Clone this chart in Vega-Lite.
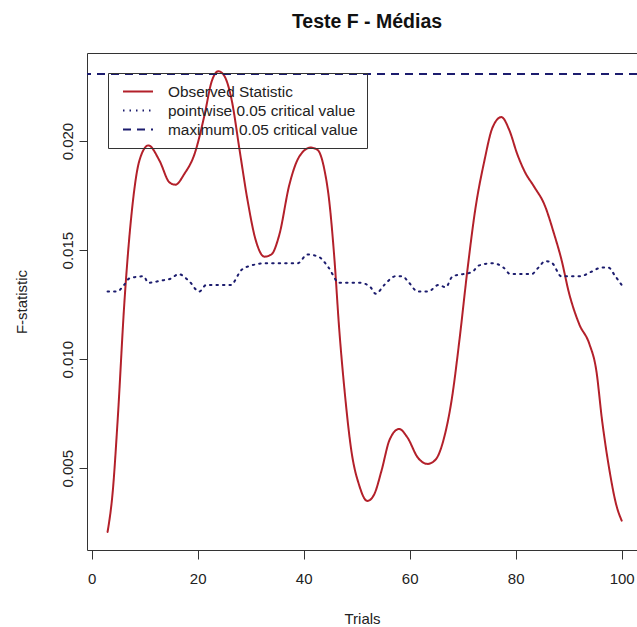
{
  "$schema": "https://vega.github.io/schema/vega-lite/v6.json",
  "width": 550,
  "height": 497,
  "autosize": "none",
  "padding": {"left": 87, "top": 53, "right": 0, "bottom": 77},
  "background": "white",
  "title": {"text": "Teste F - Médias", "font": "Liberation Sans", "fontSize": 19.5, "fontWeight": "bold", "color": "#111", "anchor": "middle", "offset": 21, "dx": 5},
  "config": {
    "view": {"stroke": "#333", "strokeWidth": 1},
    "font": "Liberation Sans"
  },
  "data": {"values": [
    {"series": "Observed Statistic", "x": 3, "y": 0.00208},
    {"series": "Observed Statistic", "x": 4, "y": 0.0040},
    {"series": "Observed Statistic", "x": 4.9, "y": 0.0072},
    {"series": "Observed Statistic", "x": 6.2, "y": 0.0127},
    {"series": "Observed Statistic", "x": 7.5, "y": 0.0166},
    {"series": "Observed Statistic", "x": 9, "y": 0.0191},
    {"series": "Observed Statistic", "x": 10.7, "y": 0.0198},
    {"series": "Observed Statistic", "x": 12.8, "y": 0.0191},
    {"series": "Observed Statistic", "x": 14.7, "y": 0.0181},
    {"series": "Observed Statistic", "x": 15.8, "y": 0.0180},
    {"series": "Observed Statistic", "x": 17.5, "y": 0.0185},
    {"series": "Observed Statistic", "x": 19.4, "y": 0.0194},
    {"series": "Observed Statistic", "x": 21.3, "y": 0.0212},
    {"series": "Observed Statistic", "x": 22.6, "y": 0.0227},
    {"series": "Observed Statistic", "x": 23.9, "y": 0.0232},
    {"series": "Observed Statistic", "x": 25, "y": 0.0230},
    {"series": "Observed Statistic", "x": 26.4, "y": 0.0219},
    {"series": "Observed Statistic", "x": 27.9, "y": 0.0196},
    {"series": "Observed Statistic", "x": 29.4, "y": 0.0173},
    {"series": "Observed Statistic", "x": 30.9, "y": 0.0155},
    {"series": "Observed Statistic", "x": 32.6, "y": 0.0147},
    {"series": "Observed Statistic", "x": 33.9, "y": 0.0148},
    {"series": "Observed Statistic", "x": 35.4, "y": 0.0157},
    {"series": "Observed Statistic", "x": 37.3, "y": 0.0180},
    {"series": "Observed Statistic", "x": 39.2, "y": 0.0193},
    {"series": "Observed Statistic", "x": 41.3, "y": 0.0197},
    {"series": "Observed Statistic", "x": 42.6, "y": 0.0196},
    {"series": "Observed Statistic", "x": 43.9, "y": 0.0187},
    {"series": "Observed Statistic", "x": 44.8, "y": 0.0173},
    {"series": "Observed Statistic", "x": 45.8, "y": 0.0146},
    {"series": "Observed Statistic", "x": 46.7, "y": 0.0114},
    {"series": "Observed Statistic", "x": 47.7, "y": 0.0086},
    {"series": "Observed Statistic", "x": 49, "y": 0.0058},
    {"series": "Observed Statistic", "x": 50.5, "y": 0.0042},
    {"series": "Observed Statistic", "x": 52, "y": 0.0035},
    {"series": "Observed Statistic", "x": 53.3, "y": 0.0038},
    {"series": "Observed Statistic", "x": 54.7, "y": 0.0049},
    {"series": "Observed Statistic", "x": 56.2, "y": 0.0063},
    {"series": "Observed Statistic", "x": 58, "y": 0.0068},
    {"series": "Observed Statistic", "x": 59.6, "y": 0.0064},
    {"series": "Observed Statistic", "x": 61.5, "y": 0.0055},
    {"series": "Observed Statistic", "x": 63.4, "y": 0.0052},
    {"series": "Observed Statistic", "x": 64.9, "y": 0.0054},
    {"series": "Observed Statistic", "x": 66.6, "y": 0.0065},
    {"series": "Observed Statistic", "x": 67.9, "y": 0.0081},
    {"series": "Observed Statistic", "x": 69.4, "y": 0.0109},
    {"series": "Observed Statistic", "x": 70.9, "y": 0.0141},
    {"series": "Observed Statistic", "x": 72.4, "y": 0.0169},
    {"series": "Observed Statistic", "x": 74.1, "y": 0.0191},
    {"series": "Observed Statistic", "x": 75.6, "y": 0.0206},
    {"series": "Observed Statistic", "x": 77.3, "y": 0.0211},
    {"series": "Observed Statistic", "x": 78.8, "y": 0.0205},
    {"series": "Observed Statistic", "x": 80.3, "y": 0.0194},
    {"series": "Observed Statistic", "x": 81.7, "y": 0.0186},
    {"series": "Observed Statistic", "x": 83.5, "y": 0.0179},
    {"series": "Observed Statistic", "x": 85.4, "y": 0.0171},
    {"series": "Observed Statistic", "x": 87.3, "y": 0.0157},
    {"series": "Observed Statistic", "x": 88.6, "y": 0.0146},
    {"series": "Observed Statistic", "x": 90.1, "y": 0.0130},
    {"series": "Observed Statistic", "x": 92, "y": 0.0116},
    {"series": "Observed Statistic", "x": 93.9, "y": 0.0107},
    {"series": "Observed Statistic", "x": 95.2, "y": 0.0095},
    {"series": "Observed Statistic", "x": 96.3, "y": 0.0072},
    {"series": "Observed Statistic", "x": 97.7, "y": 0.0049},
    {"series": "Observed Statistic", "x": 99, "y": 0.0033},
    {"series": "Observed Statistic", "x": 100, "y": 0.0026},
    {"series": "pointwise 0.05 critical value", "x": 3, "y": 0.0131},
    {"series": "pointwise 0.05 critical value", "x": 4.8, "y": 0.0131},
    {"series": "pointwise 0.05 critical value", "x": 6.1, "y": 0.0134},
    {"series": "pointwise 0.05 critical value", "x": 7.1, "y": 0.0137},
    {"series": "pointwise 0.05 critical value", "x": 9.8, "y": 0.0138},
    {"series": "pointwise 0.05 critical value", "x": 10.7, "y": 0.0135},
    {"series": "pointwise 0.05 critical value", "x": 13, "y": 0.0136},
    {"series": "pointwise 0.05 critical value", "x": 15, "y": 0.0137},
    {"series": "pointwise 0.05 critical value", "x": 16.4, "y": 0.0139},
    {"series": "pointwise 0.05 critical value", "x": 18.3, "y": 0.0136},
    {"series": "pointwise 0.05 critical value", "x": 20.3, "y": 0.0131},
    {"series": "pointwise 0.05 critical value", "x": 21.6, "y": 0.0134},
    {"series": "pointwise 0.05 critical value", "x": 24.3, "y": 0.0134},
    {"series": "pointwise 0.05 critical value", "x": 26.2, "y": 0.0134},
    {"series": "pointwise 0.05 critical value", "x": 28.3, "y": 0.0141},
    {"series": "pointwise 0.05 critical value", "x": 30.2, "y": 0.0143},
    {"series": "pointwise 0.05 critical value", "x": 32.8, "y": 0.0144},
    {"series": "pointwise 0.05 critical value", "x": 36.1, "y": 0.0144},
    {"series": "pointwise 0.05 critical value", "x": 38.9, "y": 0.0144},
    {"series": "pointwise 0.05 critical value", "x": 40.7, "y": 0.0148},
    {"series": "pointwise 0.05 critical value", "x": 42.8, "y": 0.0147},
    {"series": "pointwise 0.05 critical value", "x": 44.7, "y": 0.0142},
    {"series": "pointwise 0.05 critical value", "x": 46.7, "y": 0.0135},
    {"series": "pointwise 0.05 critical value", "x": 48, "y": 0.0135},
    {"series": "pointwise 0.05 critical value", "x": 50.7, "y": 0.0135},
    {"series": "pointwise 0.05 critical value", "x": 52.6, "y": 0.0133},
    {"series": "pointwise 0.05 critical value", "x": 53.6, "y": 0.0130},
    {"series": "pointwise 0.05 critical value", "x": 55.2, "y": 0.0134},
    {"series": "pointwise 0.05 critical value", "x": 57.3, "y": 0.0138},
    {"series": "pointwise 0.05 critical value", "x": 58.6, "y": 0.0138},
    {"series": "pointwise 0.05 critical value", "x": 59.9, "y": 0.0135},
    {"series": "pointwise 0.05 critical value", "x": 61.5, "y": 0.0131},
    {"series": "pointwise 0.05 critical value", "x": 63.5, "y": 0.0131},
    {"series": "pointwise 0.05 critical value", "x": 65.4, "y": 0.0134},
    {"series": "pointwise 0.05 critical value", "x": 66.8, "y": 0.0133},
    {"series": "pointwise 0.05 critical value", "x": 68.1, "y": 0.0138},
    {"series": "pointwise 0.05 critical value", "x": 70.1, "y": 0.0139},
    {"series": "pointwise 0.05 critical value", "x": 71.8, "y": 0.0140},
    {"series": "pointwise 0.05 critical value", "x": 73.1, "y": 0.0143},
    {"series": "pointwise 0.05 critical value", "x": 75.7, "y": 0.0144},
    {"series": "pointwise 0.05 critical value", "x": 77.7, "y": 0.0142},
    {"series": "pointwise 0.05 critical value", "x": 79, "y": 0.0139},
    {"series": "pointwise 0.05 critical value", "x": 81, "y": 0.0139},
    {"series": "pointwise 0.05 critical value", "x": 83, "y": 0.0139},
    {"series": "pointwise 0.05 critical value", "x": 84.3, "y": 0.0142},
    {"series": "pointwise 0.05 critical value", "x": 85.6, "y": 0.0145},
    {"series": "pointwise 0.05 critical value", "x": 86.9, "y": 0.0144},
    {"series": "pointwise 0.05 critical value", "x": 88.6, "y": 0.0138},
    {"series": "pointwise 0.05 critical value", "x": 90.2, "y": 0.0138},
    {"series": "pointwise 0.05 critical value", "x": 92.2, "y": 0.0138},
    {"series": "pointwise 0.05 critical value", "x": 94.2, "y": 0.0140},
    {"series": "pointwise 0.05 critical value", "x": 96.2, "y": 0.0142},
    {"series": "pointwise 0.05 critical value", "x": 97.5, "y": 0.0142},
    {"series": "pointwise 0.05 critical value", "x": 98.8, "y": 0.0138},
    {"series": "pointwise 0.05 critical value", "x": 100, "y": 0.0134},
    {"series": "maximum 0.05 critical value", "x": 50, "y": 0.02307}
  ]},
  "encoding": {
    "color": {
      "field": "series", "type": "nominal",
      "scale": {"domain": ["Observed Statistic", "pointwise 0.05 critical value", "maximum 0.05 critical value"], "range": ["#b3202a", "#1c1c6e", "#1c1c6e"]},
      "legend": {
        "title": null, "orient": "none", "legendX": 21, "legendY": 20,
        "strokeColor": "#333", "padding": 9, "symbolType": "stroke", "symbolOffset": 5,
        "symbolSize": 900, "symbolStrokeWidth": 2, "labelFontSize": 15.4, "labelLimit": 0,
        "labelFont": "Liberation Sans", "labelColor": "#222", "labelOffset": 14,
        "rowPadding": 0, "clipHeight": 19
      }
    },
    "strokeDash": {
      "field": "series", "type": "nominal",
      "scale": {"domain": ["Observed Statistic", "pointwise 0.05 critical value", "maximum 0.05 critical value"], "range": [[1, 0], [1.5, 5], [8, 6]]},
      "legend": {
        "title": null, "orient": "none", "legendX": 21, "legendY": 20,
        "strokeColor": "#333", "padding": 9, "symbolType": "stroke", "symbolOffset": 5,
        "symbolSize": 900, "symbolStrokeWidth": 2, "labelFontSize": 15.4, "labelLimit": 0,
        "labelFont": "Liberation Sans", "labelColor": "#222", "labelOffset": 14,
        "rowPadding": 0, "clipHeight": 19
      }
    }
  },
  "layer": [
    {
      "transform": [{"filter": "datum.series != 'maximum 0.05 critical value'"}],
      "mark": {"type": "line", "strokeWidth": 2, "clip": true, "strokeCap": "round", "interpolate": "monotone"},
      "encoding": {
        "x": {
          "field": "x", "type": "quantitative",
          "scale": {"domain": [-0.88, 102.89], "nice": false, "zero": false},
          "axis": {"values": [0, 20, 40, 60, 80, 100], "title": "Trials", "grid": false, "domain": false,
            "tickColor": "#333", "tickSize": 9, "labelFontSize": 15, "labelColor": "#222", "labelPadding": 12,
            "titleFontSize": 15, "titleFontWeight": "normal", "titleColor": "#222", "titlePadding": 25, "labelFlush": false}
        },
        "y": {
          "field": "y", "type": "quantitative",
          "scale": {"domain": [0.001252, 0.024037], "nice": false, "zero": false},
          "axis": {"values": [0.005, 0.01, 0.015, 0.02], "format": ".3f", "title": "F-statistic", "grid": false, "domain": false,
            "tickColor": "#333", "tickSize": 8, "labelFontSize": 15, "labelColor": "#222", "labelAngle": 270,
            "labelAlign": "center", "labelBaseline": "bottom", "labelPadding": 4,
            "titleFontSize": 15, "titleFontWeight": "normal", "titleColor": "#222", "titlePadding": 31}
        },
        "detail": {"field": "series"}
      }
    },
    {
      "transform": [{"filter": "datum.series == 'maximum 0.05 critical value'"}],
      "mark": {"type": "rule", "strokeWidth": 2, "clip": true},
      "encoding": {
        "y": {"field": "y", "type": "quantitative"}
      }
    }
  ]
}
